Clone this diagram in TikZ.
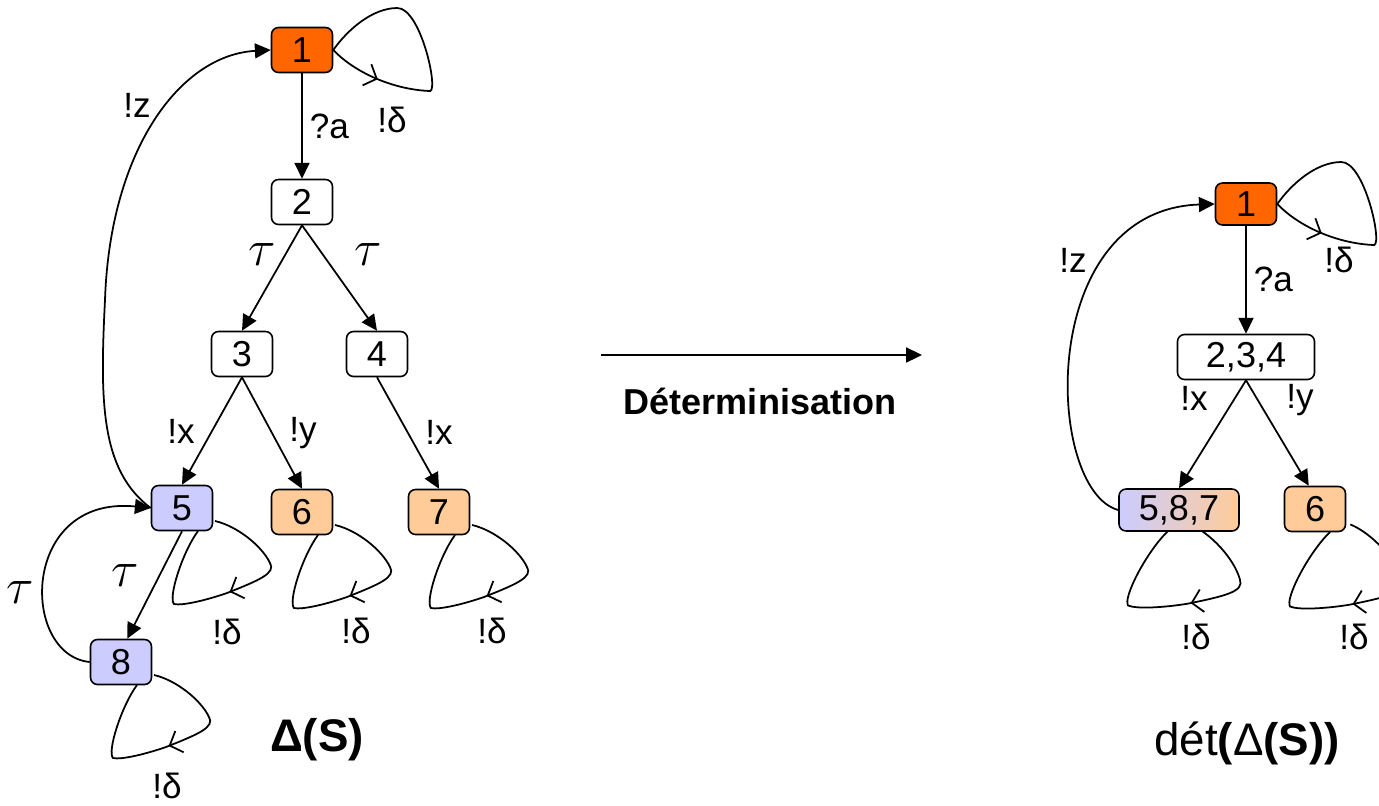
\RequirePackage{fix-cm}
\documentclass[tikz,border=0pt]{standalone}
\usepackage{amsmath}
\usepackage{fontspec}
\setmainfont{Liberation Sans}
\usetikzlibrary{arrows.meta,positioning,backgrounds,decorations.markings}

\definecolor{stateorange}{HTML}{FF6600}
\definecolor{statelilac}{HTML}{CCCCFF}
\definecolor{statepeach}{HTML}{FFCC99}

% self loops: one going to the right, one hanging below
\newcommand{\toploop}[1]{\draw[loopline=0.19, shift={(#1.east)}] (0,0) .. controls (24,25) and (64,40) .. (97,41) .. controls (105,38) and (87,-42) .. (64,-42) .. controls (39,-42) and (14,-20) .. (0,0);}
\newcommand{\botloop}[2][]{\draw[loopline=0.48, shift={(#2)}, #1] (17,-10) .. controls (39,-5) and (64,15) .. (72,32) .. controls (78,42) and (62,49) .. (29,62) .. controls (9,69) and (-16,75) .. (-24,73) .. controls (-30,67) and (-16,22) .. (0,0);}

\begin{document}
\begin{tikzpicture}[x=0.02cm, y=-0.02cm,
    state/.style={rectangle, draw=black, line width=0.9pt, rounded corners=4pt, fill=white, minimum width=1.22cm, minimum height=0.9cm, inner sep=0pt, font=\fontsize{20.5}{24}\selectfont},
    edge/.style={-{Triangle[length=9pt,width=8.5pt]}, line width=1pt},
    lbl/.style={font=\fontsize{20}{24}\selectfont, inner sep=1pt},
    taulbl/.style={font=\fontsize{29}{32}\selectfont, inner sep=1pt},
    title/.style={font=\fontsize{26}{30}\selectfont\bfseries},
    loopline/.style={line width=1pt, postaction={decorate}, decoration={markings, mark=at position #1 with {\arrow{Straight Barb[length=6pt,width=13pt]}}}}
  ]
  \useasboundingbox (0,0) rectangle (1379,805);

  % Delta(S)
  \node[state, fill=stateorange] (n1) at (302,50) {1};
  \node[state] (n2) at (302,202) {2};
  \node[state] (n3) at (242,354) {3};
  \node[state] (n4) at (377,354) {4};
  \node[state, fill=statelilac] (n5) at (182,508) {5};
  \node[state, fill=statepeach] (n6) at (302,512) {6};
  \node[state, fill=statepeach] (n7) at (439,512) {7};
  \node[state, fill=statelilac] (n8) at (121,662) {8};

  \draw[edge] (n1) -- node[lbl, right=3pt] (qa1) {?a} (n2);
  \draw[edge] (n2.south) -- (n3.north);
  \draw[edge] (n2.south) -- (n4.north);
  \draw[edge] (n3.south) -- (n5.north);
  \draw[edge] (n3.south) -- (n6.north);
  \draw[edge] (n4.south) -- (n7.north);
  \draw[edge] (n5.south) -- (n8.75);
  \draw[edge] (n8.west) .. controls (20,655) and (20,495) .. (n5.west);
  \draw[edge] (n5.west) .. controls (100,470) and (100,400) .. (105,300) .. controls (110,150) and (180,55) .. (n1.west);

  \node[taulbl] (t23) at (262,255) {$\tau$};
  \node[taulbl] (t24) at (368,255) {$\tau$};
  \node[taulbl] (t58) at (125,576) {$\tau$};
  \node[taulbl] (t85) at (20,593) {$\tau$};
  \node[lbl] (x35) at (181,431) {!x};
  \node[lbl] (y36) at (303,433) {!y};
  \node[lbl] (x47) at (439,432) {!x};
  \node[lbl] (z51) at (137,105) {!z};
  \node[lbl] (d1) at (392,120) {!δ};
  \node[lbl] (d5) at (227,632) {!δ};
  \node[lbl] (d6) at (356,631) {!δ};
  \node[lbl] (d7) at (492,631) {!δ};
  \node[lbl] (d8) at (167,786) {!δ};
  \node[title] (tleft) at (317,740) {Δ(S)};

  % determinisation arrow
  \coordinate (detL) at (601,355);
  \coordinate (detR) at (922,355);
  \draw[edge] (detL) -- (detR);
  \node[font=\fontsize{20.5}{24}\selectfont\bfseries] (det) at (760,401) {Déterminisation};

  % det(Delta(S))
  \node[state, fill=stateorange, minimum height=0.84cm] (r1) at (1246,204) {1};
  \node[state, minimum width=2.74cm] (r234) at (1246,357) {2,3,4};
  \node[state, left color=statelilac, right color=statepeach, minimum width=2.4cm, minimum height=0.84cm] (r587) at (1179,510) {5,8,7};
  \node[state, fill=statepeach] (r6) at (1315,509) {6};

  \draw[edge] (r1) -- node[lbl, right=3pt] (qa2) {?a} (r234);
  \draw[edge] (r234.south) -- (r587.north);
  \draw[edge] (r234.south) -- (r6.105);
  \draw[edge] (r587.west) .. controls (1045,490) and (1035,210) .. (r1.west);

  \node[lbl] (xr) at (1194,398) {!x};
  \node[lbl] (yr) at (1300,400) {!y};
  \node[lbl] (zr) at (1073,260) {!z};
  \node[lbl] (dr1) at (1339,260) {!δ};
  \node[lbl] (dr5) at (1196,637) {!δ};
  \node[lbl] (dr6) at (1354,637) {!δ};
  \node[font=\fontsize{26}{30}\selectfont] (tright) at (1247,743) {dét\textbf{(}Δ\textbf{(S))}};

  \begin{scope}[on background layer]
    \toploop{n1}
    \toploop{r1}
    \botloop[shift={(16,23)}]{n5}
    \botloop[shift={(16,23)}]{n6}
    \botloop[shift={(16,23)}]{n7}
    \botloop[shift={(16,23)}]{n8}
    \botloop[shift={(-11,21)}, rotate=-10, scale=1.1]{r587}
    \botloop[shift={(15,23)}, rotate=-10, scale=1.1]{r6}
  \end{scope}
\end{tikzpicture}
\end{document}
